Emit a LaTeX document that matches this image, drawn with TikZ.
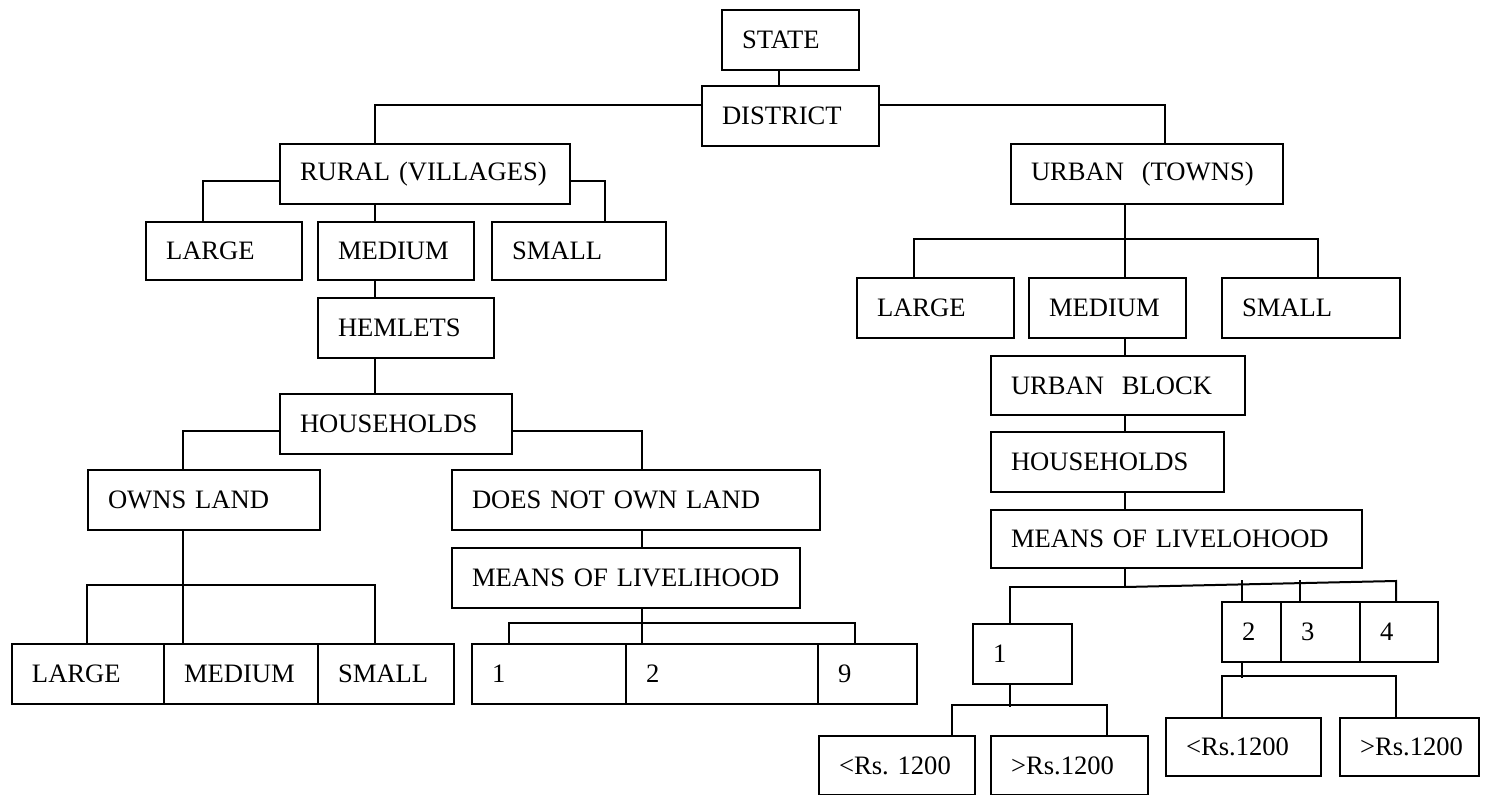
\documentclass[tikz,border=0pt]{standalone}
\usepackage{fontspec}
\setmainfont{Liberation Serif}
\usetikzlibrary{calc}
\tikzset{box/.style={draw,line width=1pt,anchor=north west,inner xsep=10pt,inner ysep=0pt,minimum height=30pt,text width=#1,align=left,font=\fontsize{13.3}{16}\selectfont\frenchspacing}}
\begin{document}
\begin{tikzpicture}[x=0.5pt,y=-0.5pt,line width=1pt]
\useasboundingbox (0,0) rectangle (1486,795);
% top
\node[box=48.5pt] (state) at (721,9) {STATE};
\node[box=68.5pt] (district) at (701,85) {DISTRICT};
\node[box=125pt] (rural) at (279,143) {RURAL (VILLAGES)};
\node[box=116pt] (urban) at (1010,143) {URBAN~~(TOWNS)};
% rural side
\node[box=58pt,minimum height=29pt] (rLarge) at (145,221) {LARGE};
\node[box=58pt,minimum height=29pt] (rMedium) at (317,221) {MEDIUM};
\node[box=67pt,minimum height=29pt] (rSmall) at (491,221) {SMALL};
\node[box=68pt] (hemlets) at (317,297) {HEMLETS};
\node[box=96pt] (rHouse) at (279,393) {HOUSEHOLDS};
\node[box=96pt] (ownsLand) at (87,469) {OWNS LAND};
\node[box=164pt] (notOwn) at (451,469) {DOES NOT OWN LAND};
\node[box=154pt] (rMeans) at (451,547) {MEANS OF LIVELIHOOD};
\node[box=56pt] (lLarge) at (11,643) {LARGE};
\node[box=57pt] (lMedium) at (163,643) {MEDIUM};
\node[box=48pt] (lSmall) at (317,643) {SMALL};
\node[box=57pt] (liv1) at (471,643) {1};
\node[box=76pt] (liv2) at (625,643) {2};
\node[box=29.5pt] (liv9) at (817,643) {9};
% urban side
\node[box=58.5pt] (uLarge) at (856,277) {LARGE};
\node[box=58.5pt] (uMedium) at (1028,277) {MEDIUM};
\node[box=69pt] (uSmall) at (1221,277) {SMALL};
\node[box=107pt,minimum height=29.5pt] (block) at (990,355) {URBAN~~BLOCK};
\node[box=96.5pt] (uHouse) at (990,431) {HOUSEHOLDS};
\node[box=165.5pt,minimum height=29pt] (uMeans) at (990,509) {MEANS OF LIVELOHOOD};
\node[box=29.5pt] (one) at (972,623) {1};
\node[box=9.5pt] (two) at (1221,601) {2};
\node[box=19.5pt] (three) at (1280,601) {3};
\node[box=19pt] (four) at (1359,601) {4};
\node[box=58pt,minimum height=29.5pt] (lowA) at (818,735) {\mbox{<Rs. 1200}};
\node[box=58.5pt,minimum height=29.5pt] (highA) at (990,735) {>Rs.1200};
\node[box=57.5pt,minimum height=29pt] (lowB) at (1165,717) {<Rs.1200};
\node[box=49.5pt,minimum height=29pt] (highB) at (1339,717) {>Rs.1200};
% connectors
\draw ($(state.south west)+(58,0)$) -- ($(district.north west)+(78,0)$);
\draw ($(district.north west)+(0,20)$) -| ($(rural.north west)+(96,0)$);
\draw ($(district.north east)+(0,20)$) -| ($(urban.north west)+(155,0)$);
\draw ($(rural.north west)+(0,38)$) -| ($(rLarge.north west)+(58,0)$);
\draw ($(rural.north east)+(0,38)$) -| ($(rSmall.north west)+(114,0)$);
\draw ($(rural.south west)+(96,0)$) -- ($(rMedium.north west)+(58,0)$);
\draw ($(rMedium.south west)+(58,0)$) -- ($(hemlets.north west)+(58,0)$);
\draw ($(hemlets.south west)+(58,0)$) -- ($(rHouse.north west)+(96,0)$);
\draw ($(rHouse.north west)+(0,38)$) -| ($(ownsLand.north west)+(96,0)$);
\draw ($(rHouse.north east)+(0,38)$) -| ($(notOwn.north west)+(191,0)$);
\draw ($(ownsLand.south west)+(96,0)$) -- ($(lMedium.north west)+(20,0)$);
\draw ($(lLarge.north west)+(76,0)$) |- ($(lSmall.north west)+(58,-58)$) -- ($(lSmall.north west)+(58,0)$);
\draw ($(notOwn.south west)+(191,0)$) -- ($(rMeans.north west)+(191,0)$);
\draw ($(rMeans.south west)+(191,0)$) -- ($(liv2.north west)+(17,0)$);
\draw ($(liv1.north west)+(38,0)$) |- ($(liv9.north west)+(38,-20)$) -- ($(liv9.north west)+(38,0)$);
\draw ($(urban.south west)+(115,0)$) -- ($(uMedium.north west)+(97,0)$);
\draw ($(uLarge.north west)+(58,0)$) |- ($(uSmall.north west)+(97,-38)$) -- ($(uSmall.north west)+(97,0)$);
\draw ($(uMedium.south west)+(97,0)$) -- ($(block.north west)+(135,0)$);
\draw ($(block.south west)+(135,0)$) -- ($(uHouse.north west)+(135,0)$);
\draw ($(uHouse.south west)+(135,0)$) -- ($(uMeans.north west)+(135,0)$);
\draw ($(uMeans.south west)+(135,0)$) -- ($(uMeans.south west)+(135,18)$) -| ($(one.north west)+(38,0)$);
\draw ($(uMeans.south west)+(135,18)$) -- ($(four.north west)+(37,-20)$) -- ($(four.north west)+(37,0)$);
\draw ($(two.north west)+(21,-21)$) -- ($(two.north west)+(21,0)$);
\draw ($(three.north west)+(20,-21)$) -- ($(three.north west)+(20,0)$);
\draw ($(one.south west)+(38,0)$) -- ($(one.south west)+(38,22)$);
\draw ($(lowA.north west)+(134,0)$) |- ($(highA.north west)+(117,-30)$) -- ($(highA.north west)+(117,0)$);
\draw ($(two.south west)+(21,0)$) -- ($(two.south west)+(21,15)$);
\draw ($(lowB.north west)+(57,0)$) |- ($(highB.north west)+(57,-41)$) -- ($(highB.north west)+(57,0)$);
\end{tikzpicture}
\end{document}
